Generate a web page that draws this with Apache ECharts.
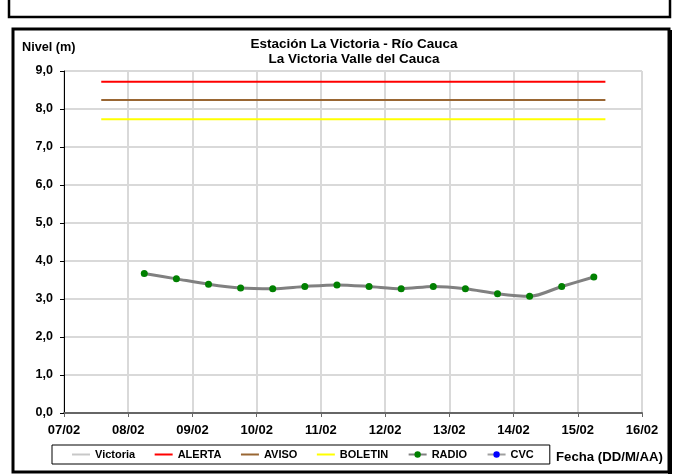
<!DOCTYPE html>
<html>
<head>
<meta charset="utf-8">
<script src="https://cdn.jsdelivr.net/npm/echarts@6/dist/echarts.min.js"></script>
<style>
html,body{margin:0;padding:0;background:#fff;}
#chart{width:678px;height:474px;}
</style>
</head>
<body>
<div id="chart"></div>
<script>
// ---- data ----
const tickLabels = ['07/02','08/02','09/02','10/02','11/02','12/02','13/02','14/02','15/02','16/02'];
// x positions in days after 07/02 00:00 (readings at 06:00 and 18:00)
const radioDays = [1.25,1.75,2.25,2.75,3.25,3.75,4.25,4.75,5.25,5.75,6.25,6.75,7.25,7.75,8.25];
const radioLevels = [3.67,3.53,3.39,3.29,3.27,3.33,3.37,3.33,3.27,3.33,3.27,3.14,3.07,3.33,3.58];
const thresholdDays = [0.58, 8.43];
const alertaLevels = [8.72, 8.72];
const avisoLevels = [8.24, 8.24];
const boletinLevels = [7.73, 7.73];
const victoriaLevels = [];
const cvcLevels = [];

const titleLines = ['Estación La Victoria - Río Cauca', 'La Victoria Valle del Cauca'];
const yAxisTitle = 'Nivel (m)';
const xAxisTitle = 'Fecha (DD/M/AA)';

function pairs(xs, ys){ return ys.map((y,i)=>[xs[i], y]); }

const FONT = 'Liberation Sans, Arial, sans-serif';
const LINE_ICON = 'path://M0,4H18V6H0Z';
const chart = echarts.init(document.getElementById('chart'));

const option = {
  animation: false,
  backgroundColor: '#fff',
  grid: {left: 64, top: 71, right: 36, bottom: 61, show: true, borderColor: '#808080', borderWidth: 1},
  xAxis: {
    type: 'value', min: 0, max: 9, interval: 1,
    axisLine: {show: true, onZero: false, lineStyle: {color: '#666', width: 2}},
    axisTick: {show: true, length: 4, lineStyle: {color: '#666', width: 1}},
    axisLabel: {formatter: v => tickLabels[Math.round(v)], color: '#000', fontFamily: FONT, fontWeight: 'bold', fontSize: 13, margin: 11},
    splitLine: {show: true, lineStyle: {color: '#d9d9d9', width: 2}}
  },
  yAxis: {
    type: 'value', min: 0, max: 9, interval: 1,
    axisLine: {show: true, lineStyle: {color: '#000', width: 1}},
    axisTick: {show: true, length: 4, lineStyle: {color: '#000', width: 1}},
    axisLabel: {formatter: v => v.toFixed(1).replace('.', ','), color: '#000', fontFamily: FONT, fontWeight: 'bold', fontSize: 12.5, margin: 11},
    splitLine: {show: true, lineStyle: {color: '#d9d9d9', width: 2}}
  },
  legend: {
    left: 52, top: 445,
    padding: [4, 16, 4, 20],
    itemGap: 19.5, itemWidth: 18, itemHeight: 8,
    borderColor: '#000', borderWidth: 1,
    textStyle: {fontFamily: FONT, fontWeight: 'bold', fontSize: 11, color: '#000'},
    data: [
      {name: 'Victoria', icon: LINE_ICON},
      {name: 'ALERTA', icon: LINE_ICON},
      {name: 'AVISO', icon: LINE_ICON},
      {name: 'BOLETIN', icon: LINE_ICON},
      {name: 'RADIO'},
      {name: 'CVC'}
    ]
  },
  series: [
    {name: 'Victoria', type: 'line', symbol: 'none', data: pairs([], victoriaLevels), lineStyle: {color: '#c8c8c8', width: 2}, itemStyle: {color: '#c8c8c8'}},
    {name: 'ALERTA', type: 'line', symbol: 'none', data: pairs(thresholdDays, alertaLevels), lineStyle: {color: '#ff0000', width: 2}, itemStyle: {color: '#ff0000'}},
    {name: 'AVISO', type: 'line', symbol: 'none', data: pairs(thresholdDays, avisoLevels), lineStyle: {color: '#996633', width: 2}, itemStyle: {color: '#996633'}},
    {name: 'BOLETIN', type: 'line', symbol: 'none', data: pairs(thresholdDays, boletinLevels), lineStyle: {color: '#ffff00', width: 2}, itemStyle: {color: '#ffff00'}},
    {name: 'RADIO', type: 'line', smooth: 0.3, symbol: 'circle', symbolSize: 7, data: pairs(radioDays, radioLevels),
      lineStyle: {color: '#808080', width: 3}, itemStyle: {color: '#008000', borderWidth: 0}},
    {name: 'CVC', type: 'line', symbol: 'circle', symbolSize: 7, data: pairs([], cvcLevels),
      lineStyle: {color: '#a0a0a0', width: 2}, itemStyle: {color: '#0000ff', borderWidth: 0}}
  ],
  graphic: [
    {type: 'rect', silent: true, shape: {x: 9, y: -10, width: 661, height: 27}, style: {fill: 'none', stroke: '#000', lineWidth: 2.5}},
    {type: 'rect', silent: true, shape: {x: 13, y: 29, width: 656, height: 443}, style: {fill: 'none', stroke: '#000', lineWidth: 3}},
    {type: 'rect', silent: true, shape: {x: 668, y: 30, width: 4, height: 444}, style: {fill: '#000'}},
    {type: 'text', silent: true, x: 354, y: 37, style: {text: titleLines.join('\n'), font: 'bold 13.5px ' + FONT, fill: '#000', textAlign: 'center', lineHeight: 15}},
    {type: 'text', silent: true, x: 22, y: 41, style: {text: yAxisTitle, font: 'bold 12.7px ' + FONT, fill: '#000'}},
    {type: 'text', silent: true, x: 556, y: 451, style: {text: xAxisTitle, font: 'bold 13.2px ' + FONT, fill: '#000'}}
  ]
};
chart.setOption(option);
</script>
</body>
</html>
